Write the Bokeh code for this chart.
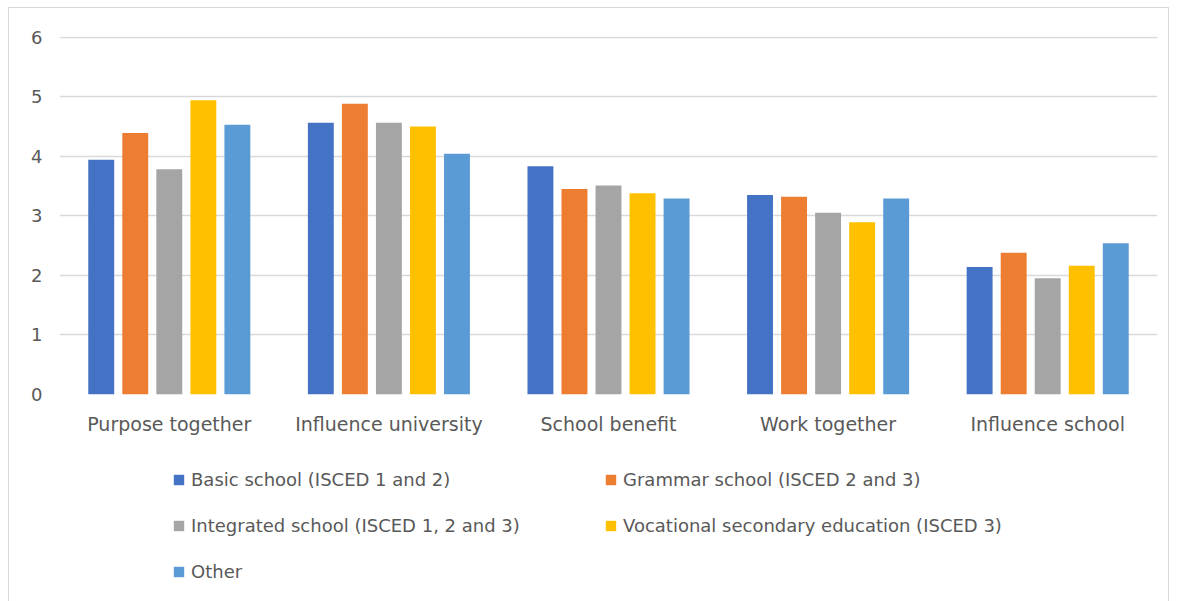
from bokeh.plotting import figure
from bokeh.layouts import column
from bokeh.models import (ColumnDataSource, Legend, LegendItem, FactorRange, Range1d,
                          SingleIntervalTicker, InlineStyleSheet)
from bokeh.transform import dodge
from bokeh.embed import file_html
from bokeh.resources import INLINE

categories = ["Purpose together", "Influence university", "School benefit",
              "Work together", "Influence school"]

basic = [3.94, 4.56, 3.83, 3.35, 2.14]
grammar = [4.39, 4.88, 3.45, 3.32, 2.38]
integrated = [3.78, 4.56, 3.51, 3.05, 1.95]
vocational = [4.94, 4.50, 3.38, 2.89, 2.16]
other = [4.53, 4.04, 3.29, 3.29, 2.54]

series_names = ["Basic school (ISCED 1 and 2)", "Grammar school (ISCED 2 and 3)",
                "Integrated school (ISCED 1, 2 and 3)",
                "Vocational secondary education (ISCED 3)", "Other"]
series_values = [basic, grammar, integrated, vocational, other]
colors = ["#4472C4", "#ED7D31", "#A5A5A5", "#FFC000", "#5B9BD5"]
keys = ["basic", "grammar", "integrated", "vocational", "other"]

FONT = "DejaVu Sans"
TEXT = "#595959"
GRID = "#d9d9d9"

source = ColumnDataSource(dict(cat=categories, **{k: v for k, v in zip(keys, series_values)}))

pitch = 0.155
width = 0.118

# --- main bar chart ---
p = figure(width=1183, height=452, x_range=FactorRange(*categories, range_padding=0),
           y_range=(0, 6.01), output_backend="svg", toolbar_location=None,
           min_border_left=59, min_border_right=26, min_border_top=36,
           min_border_bottom=58)
p.outline_line_color = None
p.background_fill_color = "white"
p.border_fill_color = "white"

for i, (k, c) in enumerate(zip(keys, colors)):
    p.vbar(x=dodge("cat", (i - 2) * pitch, range=p.x_range), top=k, width=width,
           source=source, color=c, line_color=None)

p.yaxis.ticker = SingleIntervalTicker(interval=1)
p.yaxis.axis_line_color = None
p.yaxis.major_tick_line_color = None
p.yaxis.minor_tick_line_color = None
p.yaxis.major_tick_out = 0
p.yaxis.major_tick_in = 0
p.yaxis.major_label_standoff = 13
p.yaxis.major_label_text_font = FONT
p.yaxis.major_label_text_font_size = "18px"
p.yaxis.major_label_text_color = TEXT

p.xaxis.axis_line_color = None
p.xaxis.major_tick_line_color = None
p.xaxis.major_tick_out = 0
p.xaxis.major_tick_in = 0
p.xaxis.major_label_standoff = 18
p.xaxis.major_label_text_font = FONT
p.xaxis.major_label_text_font_size = "19px"
p.xaxis.major_label_text_color = TEXT

p.xgrid.grid_line_color = None
p.ygrid.grid_line_color = GRID
p.ygrid.grid_line_width = 1.5

# --- legend strip under the chart (series glyphs sit outside its visible y range) ---
lg = figure(width=1183, height=149, x_range=p.x_range, y_range=Range1d(10, 11),
            output_backend="svg", toolbar_location=None,
            x_axis_location=None, y_axis_location=None, min_border=0)
lg.outline_line_color = None
lg.grid.grid_line_color = None
lg.background_fill_color = "white"
lg.border_fill_color = "white"

swatches = []
for i, (k, c) in enumerate(zip(keys, colors)):
    swatches.append(lg.vbar(x=dodge("cat", (i - 2) * pitch, range=lg.x_range), top=k,
                            width=width, source=source, color=c, line_color=None))

def make_legend(idx, loc):
    return Legend(items=[LegendItem(label=series_names[i], renderers=[swatches[i]]) for i in idx],
                  location=loc, orientation="vertical",
                  background_fill_alpha=0, border_line_color=None, padding=0, margin=0,
                  spacing=24, label_height=22, glyph_height=13, glyph_width=13,
                  label_standoff=6, label_text_font=FONT, label_text_font_size="18px",
                  label_text_color=TEXT)

lg.add_layout(make_legend([0, 2, 4], (113, 19)), "center")
lg.add_layout(make_legend([1, 3], (545, 65)), "center")

# light frame around the whole chart area
frame_css = InlineStyleSheet(css="""
:host { position: relative; }
:host::after {
  content: ""; position: absolute; left: 8px; top: 7px; width: 1161px; height: 620px;
  border: 1.5px solid #d9d9d9; pointer-events: none; box-sizing: border-box;
}
""")

layout = column(p, lg, spacing=0, stylesheets=[frame_css])

open("out.html", "w").write(file_html(layout, INLINE))
